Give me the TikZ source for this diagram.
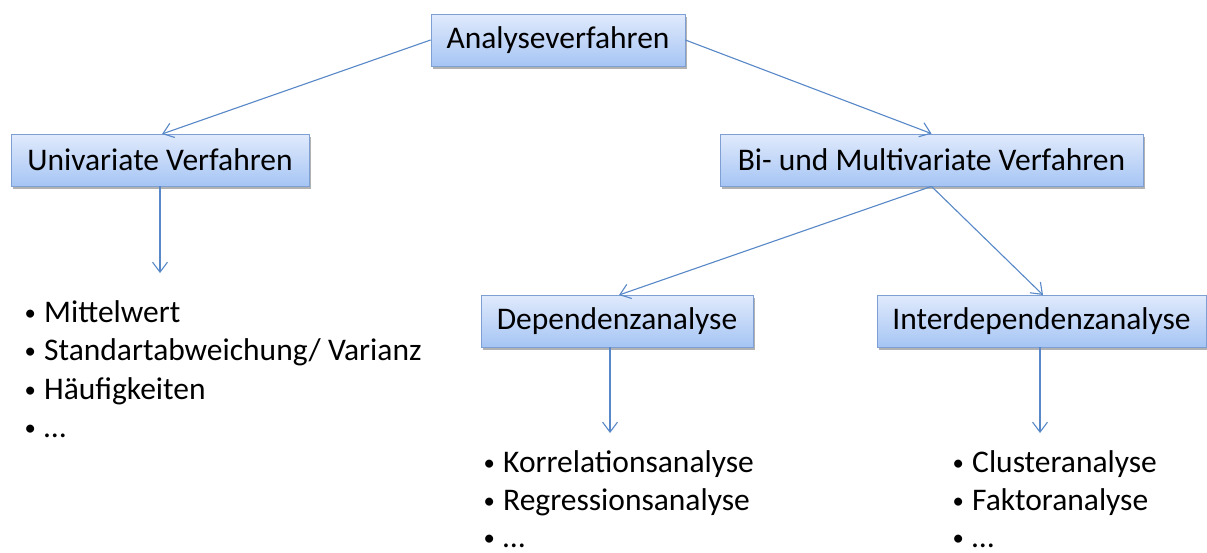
\documentclass[tikz,border=0pt]{standalone}
\usepackage{graphicx}
\usepackage{fontspec}
\setmainfont{Carlito}
\usetikzlibrary{arrows.meta,shadows}
\definecolor{boxtop}{RGB}{224,234,252}
\definecolor{boxbot}{RGB}{166,197,244}
\definecolor{boxline}{RGB}{126,159,212}
\definecolor{arrowc}{RGB}{88,136,199}
\newcommand{\bul}{\makebox[21pt][l]{\hspace{1.5pt}\raisebox{2pt}{\scalebox{0.72}{•}}}}
\begin{document}
\begin{tikzpicture}[x=1pt,y=-1pt,
  box/.style={draw=boxline, line width=0.8pt, top color=boxtop, bottom color=boxbot,
    drop shadow={shadow xshift=2pt, shadow yshift=-3pt, opacity=0.3, fill=black},
    inner sep=0pt, minimum height=52pt, font=\fontsize{31.5}{38}\selectfont, text=black},
  item/.style={inner sep=0pt, anchor=base west, font=\fontsize{31.5}{38}\selectfont, text=black},
  conn/.style={draw=arrowc, line width=1.1pt, -{Straight Barb[length=10pt,width=15pt,line width=1.1pt]}}]
\useasboundingbox (0,0) rectangle (1207,552);
\fill[white] (0,0) rectangle (1207,552);

\node[box, minimum width=254pt] (a) at (558,40) {Analyseverfahren};
\node[box, minimum width=298pt] (u) at (160,160) {Univariate Verfahren};
\node[box, minimum width=423pt] (b) at (931.5,160) {Bi- und Multivariate Verfahren};
\node[box, minimum width=272pt] (d) at (617,321) {Dependenzanalyse};
\node[box, minimum width=329pt] (i) at (1041.5,321) {Interdependenzanalyse};

\coordinate (ue) at (160,273);
\coordinate (ds) at (610,347);
\coordinate (de) at (610,433);
\coordinate (is) at (1040,347);
\coordinate (ie) at (1040,433);
\coordinate (ut) at (162,134);
\coordinate (dt) at (619,295);
\coordinate (it) at (1043,295);

\draw[conn] (a.west) -- (ut);
\draw[conn] (a.east) -- (b.north);
\draw[conn] (u.south) -- (ue);
\draw[conn] (b.south) -- (dt);
\draw[conn] (b.south) -- (it);
\draw[conn] (ds) -- (de);
\draw[conn] (is) -- (ie);

\node[item] (l1) at (23,322) {\bul Mittelwert};
\node[item] (l2) at (23,360.5) {\bul Standartabweichung/ Varianz};
\node[item] (l3) at (23,399) {\bul Häufigkeiten};
\node[item] (l4) at (23,437.5) {\bul …};

\node[item] (d1) at (482,472) {\bul Korrelationsanalyse};
\node[item] (d2) at (482,510) {\bul Regressionsanalyse};
\node[item] (d3) at (482,547) {\bul …};

\node[item] (i1) at (951,472) {\bul Clusteranalyse};
\node[item] (i2) at (951,510) {\bul Faktoranalyse};
\node[item] (i3) at (951,547) {\bul …};
\end{tikzpicture}
\end{document}
